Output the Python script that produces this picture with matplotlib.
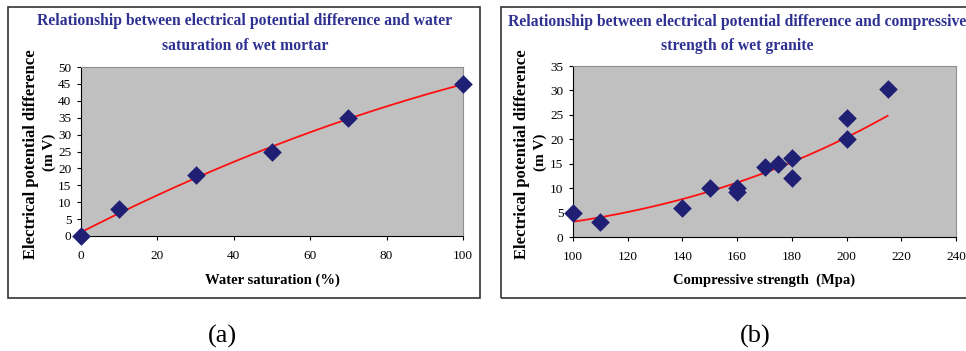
# Two scatter plots with trend lines: potential difference vs saturation / strength
import numpy as np
import matplotlib
matplotlib.use('Agg')
from matplotlib import pyplot as plt
from matplotlib.patches import Rectangle

# (a) wet mortar
sat = [0, 10, 30, 50, 70, 100]
sat_mv = [0, 8, 18, 25, 35, 45]

# (b) wet granite
strength = [100, 110, 140, 150, 160, 160, 170, 175, 180, 180, 200, 200, 215]
strength_mv = [5, 3, 6, 10, 10, 9.3, 14.3, 15, 16.2, 12, 24.3, 20, 30.2]

W, H = 966, 351
navy = '#1f1f74'
title_col = '#2e3192'
bg = '#c0c0c0'
serif = ['Liberation Serif', 'DejaVu Serif']

plt.rcParams['font.family'] = serif
fig = plt.figure(figsize=(W / 100, H / 100), dpi=100)


def fx(px):
    return px / W


def fy(py):
    return 1 - py / H


def panel(rect, x, y, trend, xlim, xticks, ylim, yticks, xlabel, ylx):
    l, t, r, b = rect
    ax = fig.add_axes([fx(l), fy(b), fx(r - l), fy(t) - fy(b)])
    ax.set_facecolor(bg)
    ax.scatter(x, y, marker='D', s=90, color=navy, zorder=3, clip_on=False,
               linewidths=0)
    xs = np.linspace(min(x), max(x), 200)
    if trend == 'poly':
        c = np.polyfit(x, y, 2)
        ys = np.polyval(c, xs)
    else:
        # power trend line, y = a * x^b
        c = np.polyfit(np.log(x), np.log(y), 1)
        ys = np.exp(c[1]) * xs ** c[0]
    ax.plot(xs, ys, color='#ff1010', lw=1.3, zorder=2)
    ax.set_xlim(*xlim)
    ax.set_ylim(*ylim)
    ax.set_xticks(xticks)
    ax.set_yticks(yticks)
    ax.tick_params(labelsize=9.5, length=3, width=0.8, direction='out')
    ax.tick_params(axis='y', pad=4)
    ax.tick_params(axis='x', pad=7)
    for s in ['top', 'right']:
        ax.spines[s].set_color('#909090')
    for s in ['left', 'bottom']:
        ax.spines[s].set_color('black')
    cx = (l + r) / 2
    fig.text(fx(cx), fy(280), xlabel, ha='center', va='center',
             fontsize=10.5, fontweight='bold')
    fig.text(fx(ylx[0]), fy(154), 'Electrical potential difference', rotation=90,
             ha='center', va='center', fontsize=12, fontweight='bold')
    fig.text(fx(ylx[1]), fy(152), '(m V)', rotation=90,
             ha='center', va='center', fontsize=11, fontweight='bold')
    return ax


# frames
fig.patches.append(Rectangle((fx(8), fy(298)), fx(472), fy(7) - fy(298),
                             transform=fig.transFigure, fill=False,
                             ec='#333333', lw=1.2))
fig.patches.append(Rectangle((fx(501), fy(298)), fx(480), fy(7) - fy(298),
                             transform=fig.transFigure, fill=False,
                             ec='#333333', lw=1.2))

panel((81, 67, 463, 236), sat, sat_mv, 'poly', (0, 100), range(0, 101, 20),
      (0, 50), range(0, 51, 5), 'Water saturation (%)', (31, 49))
panel((573, 66, 956, 237), strength, strength_mv, 'power', (100, 240),
      range(100, 241, 20), (0, 35), range(0, 36, 5),
      'Compressive strength  (Mpa)', (522, 540))

# titles
fig.text(fx(245), fy(21), 'Relationship between electrical potential difference and water',
         ha='center', va='center', fontsize=11.3, fontweight='bold', color=title_col)
fig.text(fx(245), fy(46), 'saturation of wet mortar',
         ha='center', va='center', fontsize=11.3, fontweight='bold', color=title_col)
fig.text(fx(737), fy(22), 'Relationship between electrical potential difference and compressive',
         ha='center', va='center', fontsize=11.3, fontweight='bold', color=title_col)
fig.text(fx(737), fy(46), 'strength of wet granite',
         ha='center', va='center', fontsize=11.3, fontweight='bold', color=title_col)

fig.text(fx(222), fy(336), '(a)', ha='center', va='center', fontsize=19)
fig.text(fx(755), fy(336), '(b)', ha='center', va='center', fontsize=19)

fig.savefig('out.png', dpi=100)
